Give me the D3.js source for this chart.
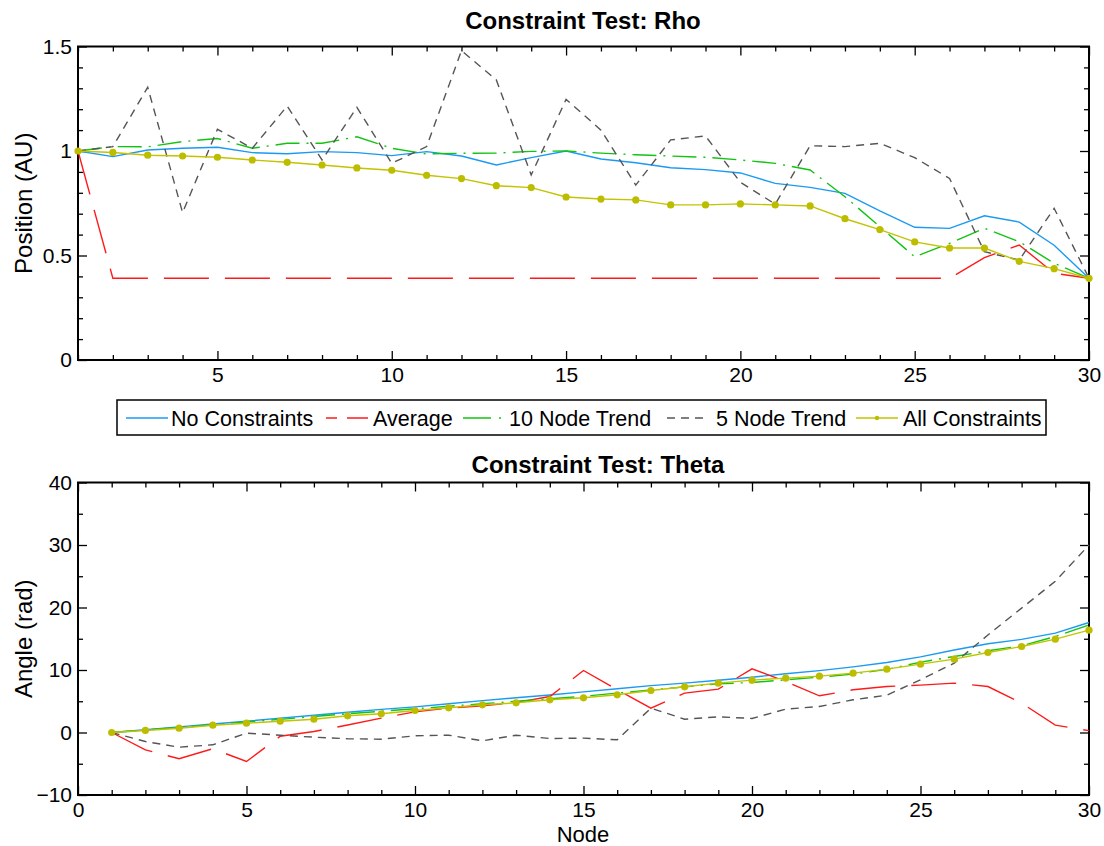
<!DOCTYPE html>
<html>
<head>
<meta charset="utf-8">
<script src="https://cdn.jsdelivr.net/npm/d3@7"></script>
<style>
  body { margin: 0; background: #fff; }
  svg text { font-family: "Liberation Sans", Arial, sans-serif; fill: #000; }
</style>
</head>
<body>
<div id="chart"></div>
<script>
// node index along the track
var nodes = [1,2,3,4,5,6,7,8,9,10,11,12,13,14,15,16,17,18,19,20,21,22,23,24,25,26,27,28,29,30];

// Rho (position, AU)
var rhoNone   = [1.0,0.973,1.005,1.013,1.018,0.992,0.987,0.997,0.992,0.978,0.997,0.976,0.933,0.968,1.0,0.962,0.944,0.92,0.911,0.895,0.845,0.826,0.797,0.713,0.635,0.63,0.69,0.66,0.549,0.391];
var rhoAvg    = [1.0,0.391,0.391,0.391,0.391,0.391,0.391,0.391,0.391,0.391,0.391,0.391,0.391,0.391,0.391,0.391,0.391,0.391,0.391,0.391,0.391,0.391,0.391,0.391,0.391,0.391,0.49,0.55,0.415,0.391];
var rhoTrend10 = [1.0,1.021,1.02,1.045,1.06,1.013,1.037,1.037,1.068,1.013,0.986,0.989,0.99,0.998,1.0,0.99,0.982,0.976,0.97,0.957,0.941,0.909,0.781,0.638,0.494,0.558,0.63,0.566,0.463,0.391];
var rhoTrend5 = [1.0,1.021,1.305,0.705,1.104,1.013,1.215,0.957,1.209,0.941,1.021,1.48,1.34,0.885,1.247,1.1,0.837,1.053,1.072,0.85,0.746,1.025,1.021,1.037,0.968,0.869,0.518,0.478,0.726,0.391];
var rhoAll    = [1.0,0.993,0.98,0.976,0.97,0.957,0.946,0.933,0.919,0.908,0.884,0.868,0.834,0.825,0.78,0.77,0.766,0.742,0.742,0.747,0.742,0.737,0.676,0.624,0.565,0.536,0.536,0.472,0.437,0.391];

// Theta (angle, rad)
var thetaNone   = [0,0.45,0.9,1.35,1.8,2.3,2.75,3.25,3.7,4.1,4.6,5.1,5.55,6.0,6.5,7.0,7.5,7.9,8.35,8.85,9.4,9.9,10.5,11.2,12.1,13.2,14.2,14.9,15.9,17.6];
var thetaAvg    = [0,-2.77,-4.2,-2.6,-4.64,-0.6,0.16,1.2,2.3,3.3,3.9,4.27,4.8,5.76,9.92,6.83,3.9,6.3,6.94,10.19,8.16,5.87,6.83,7.36,7.58,7.9,7.36,4.7,1.18,0.3];
var thetaTrend10 = [0,0.4,0.8,1.25,1.7,2.1,2.55,3.0,3.4,3.8,4.2,4.6,5.0,5.4,5.8,6.3,6.8,7.3,7.8,8.0,8.43,8.86,9.34,10.1,11.26,12.16,13.07,13.87,15.36,17.2];
var thetaTrend5 = [0,-1.44,-2.35,-1.97,-0.1,-0.43,-0.75,-1.0,-1.07,-0.53,-0.43,-1.33,-0.43,-0.96,-0.9,-1.17,3.9,2.13,2.5,2.25,3.74,4.16,5.23,5.97,8.43,11.1,15.6,19.9,24.2,30.0];
var thetaAll    = [0,0.33,0.69,1.17,1.49,1.81,2.13,2.67,2.99,3.52,3.95,4.43,4.75,5.23,5.55,6.03,6.72,7.31,7.9,8.38,8.7,9.02,9.5,10.14,10.94,11.74,12.8,13.76,14.94,16.38];

// ticks
var rhoXTicks = [5,10,15,20,25,30];
var rhoXMinor = [1,2,3,4,6,7,8,9,11,12,13,14,16,17,18,19,21,22,23,24,26,27,28,29];
var rhoYTicks = [0,0.5,1,1.5];
var rhoYMinor = [0.1,0.2,0.3,0.4,0.6,0.7,0.8,0.9,1.1,1.2,1.3,1.4];
var thetaXTicks = [0,5,10,15,20,25,30];
var thetaXMinor = [1,2,3,4,6,7,8,9,11,12,13,14,16,17,18,19,21,22,23,24,26,27,28,29];
var thetaYTicks = [-10,0,10,20,30,40];
var thetaYMinor = [-5,5,15,25,35];

var seriesNames = ["No Constraints","Average","10 Node Trend","5 Node Trend","All Constraints"];
var seriesColors = ["#1a9af2","#ff1a1a","#12c412","#555555","#c3c300"];
var seriesDash = [null,"45,16","24,7,2,7","8,6",null];

var width = 1104, height = 846;
var svg = d3.select("#chart").append("svg")
    .attr("width", width)
    .attr("height", height);

var left = 78, right = 1089;

function drawPanel(opt) {
  var x = d3.scaleLinear().domain(opt.xDomain).range([left, right]);
  var y = d3.scaleLinear().domain(opt.yDomain).range([opt.bottom, opt.top]);
  var g = svg.append("g");

  // minor ticks (all four sides)
  var minorX = function(ax) { return ax.tickValues(opt.xMinor).tickSize(-5).tickFormat(""); };
  var minorY = function(ax) { return ax.tickValues(opt.yMinor).tickSize(-5).tickFormat(""); };
  g.append("g").attr("transform","translate(0,"+opt.bottom+")").call(minorX(d3.axisBottom(x)));
  g.append("g").attr("transform","translate(0,"+opt.top+")").call(minorX(d3.axisTop(x)));
  g.append("g").attr("transform","translate("+left+",0)").call(minorY(d3.axisLeft(y)));
  g.append("g").attr("transform","translate("+right+",0)").call(minorY(d3.axisRight(y)));

  // major ticks + labels
  g.append("g").attr("class","xa").attr("transform","translate(0,"+opt.bottom+")")
    .call(d3.axisBottom(x).tickValues(opt.xTicks).tickSize(-9).tickPadding(opt.xPad).tickFormat(d3.format("")));
  g.append("g").attr("transform","translate(0,"+opt.top+")")
    .call(d3.axisTop(x).tickValues(opt.xTicks).tickSize(-9).tickFormat(""));
  g.append("g").attr("class","ya").attr("transform","translate("+left+",0)")
    .call(d3.axisLeft(y).tickValues(opt.yTicks).tickSize(-9).tickPadding(6).tickFormat(d3.format("")));
  g.append("g").attr("transform","translate("+right+",0)")
    .call(d3.axisRight(y).tickValues(opt.yTicks).tickSize(-9).tickFormat(""));

  g.selectAll(".domain").remove();
  g.selectAll(".tick line").attr("stroke","#000").attr("stroke-width",1.3);
  g.selectAll(".tick text").style("font-size","21px").attr("fill","#000");
  g.selectAll(".xa .tick text").attr("dy","0.55em");

  // box
  g.append("rect")
    .attr("x", left).attr("y", opt.top)
    .attr("width", right - left).attr("height", opt.bottom - opt.top)
    .attr("fill","none").attr("stroke","#000").attr("stroke-width",2);

  // lines
  var line = d3.line()
    .x(function(d) { return x(d[0]); })
    .y(function(d) { return y(d[1]); });

  opt.series.forEach(function(vals, i) {
    var pts = nodes.map(function(n, j) { return [n, vals[j]]; });
    g.append("path")
      .datum(pts)
      .attr("d", line)
      .attr("fill","none")
      .attr("stroke", seriesColors[i])
      .attr("stroke-width", 1.4)
      .attr("stroke-dasharray", seriesDash[i]);
    if (i === 4) {
      g.selectAll(".mk" + opt.id).data(pts).enter().append("circle")
        .attr("cx", function(d) { return x(d[0]); })
        .attr("cy", function(d) { return y(d[1]); })
        .attr("r", 3.6)
        .attr("fill", "#bdbd00");
    }
  });

  // title
  svg.append("text")
    .attr("x", opt.titleX).attr("y", opt.titleY)
    .attr("text-anchor","middle")
    .style("font-size","24px").style("font-weight","bold")
    .text(opt.title);

  // y label
  svg.append("text")
    .attr("transform","translate(32," + ((opt.top + opt.bottom) / 2) + ") rotate(-90)")
    .attr("text-anchor","middle")
    .style("font-size","24px")
    .text(opt.yLabel);
}

drawPanel({
  id: "rho", top: 46.5, bottom: 360, xPad: 10,
  xDomain: [1, 30], yDomain: [0, 1.5],
  xTicks: rhoXTicks, xMinor: rhoXMinor, yTicks: rhoYTicks, yMinor: rhoYMinor,
  series: [rhoNone, rhoAvg, rhoTrend10, rhoTrend5, rhoAll],
  title: "Constraint Test: Rho", titleX: 583, titleY: 28.5, yLabel: "Position (AU)"
});

drawPanel({
  id: "theta", top: 482.5, bottom: 795, xPad: 10,
  xDomain: [0, 30], yDomain: [-10, 40],
  xTicks: thetaXTicks, xMinor: thetaXMinor, yTicks: thetaYTicks, yMinor: thetaYMinor,
  series: [thetaNone, thetaAvg, thetaTrend10, thetaTrend5, thetaAll],
  title: "Constraint Test: Theta", titleX: 598, titleY: 472.5, yLabel: "Angle (rad)"
});

// x label
svg.append("text")
  .attr("x", 583).attr("y", 842)
  .attr("text-anchor","middle")
  .style("font-size","22px")
  .text("Node");

// legend: line sample start and text start for each entry
var legLineX = [126, 326, 463, 667, 856];
var legTextX = [171, 373, 509, 716, 903];
var legend = svg.append("g");
legend.append("rect")
  .attr("x", 117).attr("y", 400).attr("width", 929).attr("height", 35)
  .attr("fill","#fff").attr("stroke","#000").attr("stroke-width",1.5);

seriesNames.forEach(function(name, i) {
  var lg = legend.append("g").attr("transform","translate(0,418)");
  lg.append("line")
    .attr("x1", legLineX[i]).attr("x2", legLineX[i] + 42).attr("y1", 0).attr("y2", 0)
    .attr("stroke", seriesColors[i]).attr("stroke-width", 1.4)
    .attr("stroke-dasharray", i === 1 ? "11,10,22" : (i === 2 ? "28,8,2,8" : seriesDash[i]));
  if (i === 4) {
    lg.append("circle").attr("cx", legLineX[i] + 21).attr("cy", 0).attr("r", 2.2).attr("fill", "#bdbd00");
  }
  lg.append("text")
    .attr("x", legTextX[i]).attr("y", 0).attr("dy", "0.36em")
    .style("font-size", "21.5px")
    .text(name);
});
</script>
</body>
</html>
